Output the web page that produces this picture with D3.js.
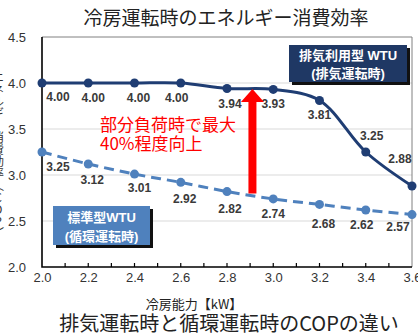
<!DOCTYPE html>
<html><head><meta charset="utf-8">
<script src="https://cdn.jsdelivr.net/npm/d3@7"></script>
<style>
html,body{margin:0;padding:0;background:#fff;}
svg{display:block;}
</style></head>
<body>
<svg id="c" width="418" height="336"></svg>
<script>
// ---- data ----
const capacity = [2.0, 2.2, 2.4, 2.6, 2.8, 3.0, 3.2, 3.4, 3.6];
const exhaustCOP = [4.00, 4.00, 4.00, 4.00, 3.94, 3.93, 3.81, 3.25, 2.88];
const standardCOP = [3.25, 3.12, 3.01, 2.92, 2.82, 2.74, 2.68, 2.62, 2.57];
const yTicks = [2.0, 2.5, 3.0, 3.5, 4.0, 4.5];
const xTicks = [2.0, 2.2, 2.4, 2.6, 2.8, 3.0, 3.2, 3.4, 3.6];
const arrowX = 2.91, arrowFrom = 2.80, arrowTo = 3.935;
const titleText = "冷房運転時のエネルギー消費効率";
const xTitle = "冷房能力【kW】";
const yTitle = "エネルギー消費効率（COP）";
const caption = "排気運転時と循環運転時のCOPの違い";
const legendExhaust = ["排気利用型 WTU", "(排気運転時)"];
const legendStandard = ["標準型WTU", "(循環運転時)"];
const noteLines = ["部分負荷時で最大", "40%程度向上"];

// ---- layout ----
const upperLabelOff = [[16,14],[5,15],[4,15],[-4,15],[3,15],[0,14],[0,14],[6,-16],[-12,-27]];
const lowerLabelOff = [[16,15],[4,16],[5,14],[4,16],[3,17],[0,15],[4,19],[-4,15],[-14,12]];

const svg = d3.select("#c");
const L = 42, R = 412, T = 37, B = 267;
const x = d3.scaleLinear().domain([2.0, 3.6]).range([L, R]);
const y = d3.scaleLinear().domain([2.0, 4.5]).range([B, T]);
const latin = "'Liberation Sans', Arial, 'Noto Sans CJK JP', sans-serif";
const cjk = "'Noto Sans CJK JP', 'Liberation Sans', sans-serif";

// gridlines
svg.append("g").selectAll("line").data(yTicks.filter(v => v > 2.0 && v < 4.5)).join("line")
  .attr("x1", L).attr("x2", R).attr("y1", d => y(d)).attr("y2", d => y(d))
  .attr("stroke", "#d9d9d9").attr("stroke-width", 1.2);
// frame top/right
svg.append("path").attr("d", `M${L},${T}H${R}V${B}`).attr("fill", "none")
  .attr("stroke", "#808080").attr("stroke-width", 1);

// axes
const xAxis = svg.append("g").attr("transform", `translate(0,${B})`)
  .call(d3.axisBottom(x).tickValues(xTicks).tickFormat(d3.format(".1f")).tickSize(0).tickPadding(6));
xAxis.select(".domain").remove();
xAxis.selectAll("text").attr("font-family", latin).attr("font-size", 13).attr("fill", "#333");
// minor ticks (inside)
svg.append("g").selectAll("line").data(d3.range(1, 16)).join("line")
  .attr("x1", d => x(2.0 + d * 0.1)).attr("x2", d => x(2.0 + d * 0.1))
  .attr("y1", B).attr("y2", B - 4).attr("stroke", "#000").attr("stroke-width", 1.2);

const yAxis = svg.append("g").attr("transform", `translate(${L},0)`)
  .call(d3.axisLeft(y).tickValues(yTicks).tickFormat(d3.format(".1f")).tickSize(0).tickPadding(16));
yAxis.select(".domain").remove();
yAxis.selectAll("text").attr("font-family", latin).attr("font-size", 13).attr("fill", "#333");

svg.append("path").attr("d", `M${L},${T}V${B}H${R}`).attr("fill", "none")
  .attr("stroke", "#000").attr("stroke-width", 1.6);

// lines
const pts1 = capacity.map((c, i) => [c, exhaustCOP[i]]);
const pts2 = capacity.map((c, i) => [c, standardCOP[i]]);
const line = d3.line().x(d => x(d[0])).y(d => y(d[1])).curve(d3.curveCatmullRom.alpha(0.5));
const c1 = "#1f3d73", c2 = "#4f81bd";

svg.append("path").attr("d", line(pts2)).attr("fill", "none").attr("stroke", c2)
  .attr("stroke-width", 3).attr("stroke-dasharray", "10,6");
svg.append("g").selectAll("circle").data(pts2).join("circle")
  .attr("cx", d => x(d[0])).attr("cy", d => y(d[1])).attr("r", 4.5).attr("fill", c2);

svg.append("path").attr("d", line(pts1)).attr("fill", "none").attr("stroke", c1).attr("stroke-width", 3);
svg.append("g").selectAll("circle").data(pts1).join("circle")
  .attr("cx", d => x(d[0])).attr("cy", d => y(d[1])).attr("r", 4.5).attr("fill", c1);

// data labels
function labels(pts, offs) {
  svg.append("g").selectAll("text").data(pts).join("text")
    .attr("x", (d, i) => x(d[0]) + offs[i][0]).attr("y", (d, i) => y(d[1]) + offs[i][1])
    .attr("dy", "0.35em").attr("text-anchor", "middle")
    .attr("font-family", latin).attr("font-size", 12).attr("font-weight", "bold").attr("fill", "#3a3a3a")
    .text(d => d3.format(".2f")(d[1]));
}
labels(pts1, upperLabelOff);
labels(pts2, lowerLabelOff);

// red arrow
const ax = x(arrowX), ay0 = y(arrowFrom), ay1 = y(arrowTo);
svg.append("path")
  .attr("d", `M${ax-4},${ay0}V${ay1+13}H${ax-11.5}L${ax},${ay1}L${ax+11.5},${ay1+13}H${ax+4}V${ay0}Z`)
  .attr("fill", "#ff0000");

// note
svg.append("g").selectAll("text").data(noteLines).join("text")
  .attr("x", 100).attr("y", (d, i) => 125 + i * 19).attr("dy", "0.35em")
  .attr("font-family", cjk).attr("font-size", 17).attr("fill", "#ff0000").text(d => d);

// legends
function legend(bx, by, bw, bh, fill, lines, ly) {
  svg.append("rect").attr("x", bx + 3).attr("y", by + 3).attr("width", bw).attr("height", bh).attr("fill", "#111");
  svg.append("rect").attr("x", bx).attr("y", by).attr("width", bw).attr("height", bh).attr("fill", fill);
  svg.append("g").selectAll("text").data(lines).join("text")
    .attr("x", bx + bw / 2).attr("y", (d, i) => ly[i]).attr("dy", "0.35em").attr("text-anchor", "middle")
    .attr("font-family", latin).attr("font-size", 13).attr("font-weight", "bold").attr("fill", "#fff")
    .text(d => d);
}
legend(289, 45, 118, 37, "#1f3864", legendExhaust, [55, 73]);
legend(53, 206, 97, 39, "#4f81bd", legendStandard, [217, 236]);

// titles
svg.append("text").attr("x", 226).attr("y", 18).attr("dy", "0.35em").attr("text-anchor", "middle")
  .attr("font-family", cjk).attr("font-size", 19).attr("fill", "#222").text(titleText);
svg.append("text").attr("x", 194).attr("y", 304).attr("dy", "0.35em").attr("text-anchor", "middle")
  .attr("font-family", cjk).attr("font-size", 13).attr("fill", "#222").text(xTitle);
svg.append("text").attr("x", 229).attr("y", 331).attr("text-anchor", "middle")
  .attr("font-family", cjk).attr("font-size", 20).attr("fill", "#222").text(caption);
svg.append("text").attr("x", -2).attr("y", 155).attr("text-anchor", "middle")
  .style("writing-mode", "vertical-rl").style("text-orientation", "upright")
  .attr("font-family", cjk).attr("font-size", 12).attr("fill", "#333").text(yTitle);
</script>
</body></html>
